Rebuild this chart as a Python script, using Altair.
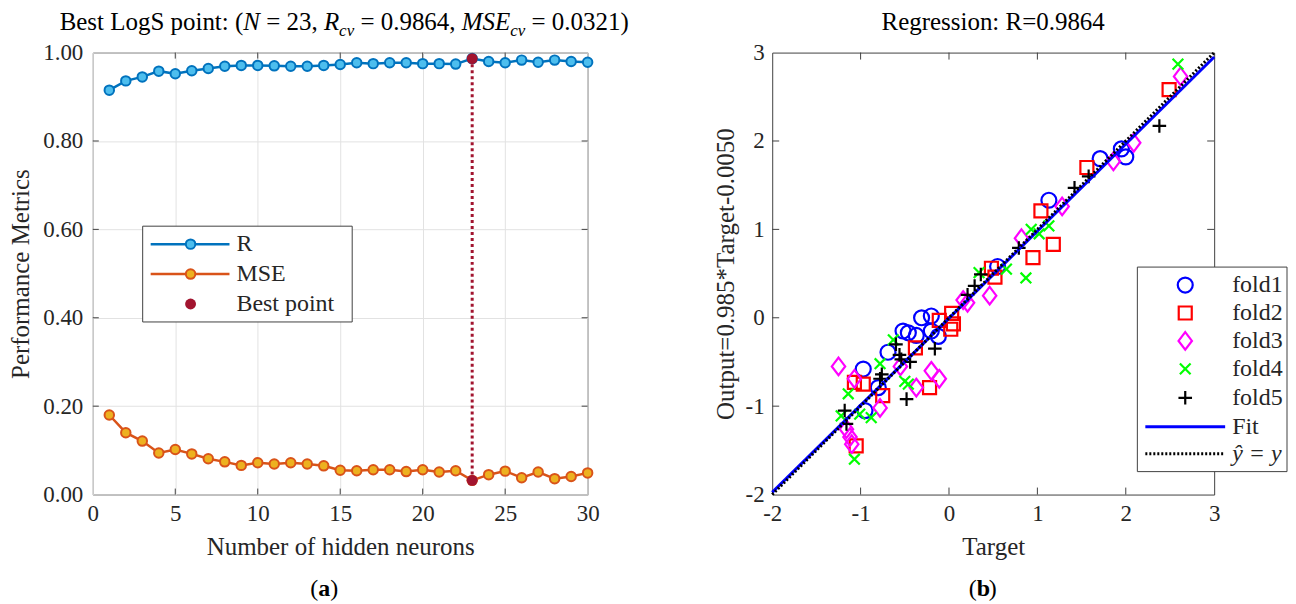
import altair as alt
import pandas as pd

# ---------------- data ----------------
neurons = list(range(1, 31))
r_values = [0.915, 0.936, 0.945, 0.958, 0.952, 0.959, 0.964, 0.969, 0.971, 0.971,
            0.970, 0.969, 0.969, 0.971, 0.973, 0.977, 0.975, 0.977, 0.977, 0.975,
            0.975, 0.974, 0.9864, 0.980, 0.977, 0.983, 0.978, 0.983, 0.980, 0.978]
mse_values = [0.180, 0.140, 0.121, 0.094, 0.102, 0.092, 0.081, 0.074, 0.066, 0.072,
              0.069, 0.072, 0.069, 0.065, 0.055, 0.054, 0.056, 0.056, 0.052, 0.056,
              0.051, 0.054, 0.0321, 0.045, 0.053, 0.038, 0.051, 0.036, 0.041, 0.049]
best_n = 23
best_r = 0.9864
best_mse = 0.0321

fold1_x = [2.00, 1.95, 1.71, 1.13, 0.55, -0.20, -0.31, -0.46, -0.52, -0.37, -0.20, -0.12, -0.69, -0.97, -0.80, -0.95]
fold1_y = [1.82, 1.91, 1.80, 1.33, 0.58, 0.02, 0.00, -0.17, -0.15, -0.20, -0.15, -0.21, -0.39, -0.58, -0.79, -1.05]
fold2_x = [2.49, 1.56, 1.04, 1.18, 0.95, 0.48, 0.52, 0.03, 0.05, -0.11, 0.02, -0.38, -0.22, -0.75, -1.07, -0.97, -1.05]
fold2_y = [2.58, 1.70, 1.21, 0.83, 0.68, 0.56, 0.46, 0.05, -0.07, -0.03, -0.13, -0.34, -0.79, -0.88, -0.73, -0.75, -1.45]
fold3_x = [2.62, 2.09, 1.86, 1.28, 0.82, 0.46, 0.21, 0.16, -0.55, -1.25, -1.07, -0.78, -1.16, -1.12, -1.10, -0.37, -0.20, -0.11]
fold3_y = [2.73, 1.98, 1.77, 1.26, 0.90, 0.25, 0.17, 0.20, -0.55, -0.55, -0.69, -1.02, -1.26, -1.35, -1.43, -0.79, -0.60, -0.69]
fold4_x = [2.59, 0.93, 1.13, 1.02, 0.87, 0.34, 0.65, -0.63, -0.50, -0.46, -0.78, -1.14, -1.22, -1.01, -0.88, -1.07]
fold4_y = [2.87, 1.00, 1.04, 0.95, 0.45, 0.51, 0.55, -0.25, -0.72, -0.75, -0.52, -0.86, -1.11, -1.09, -1.13, -1.60]
fold5_x = [2.38, 1.58, 1.42, 0.79, 0.36, 0.29, 0.21, -0.16, -0.60, -0.56, -0.54, -0.44, -0.48, -0.78, -0.76, -1.18, -1.16]
fold5_y = [2.17, 1.60, 1.47, 0.79, 0.49, 0.36, 0.26, -0.35, -0.30, -0.42, -0.47, -0.50, -0.92, -0.69, -0.64, -1.05, -1.20]

fit_slope = 0.985
fit_intercept = -0.0050
line_x = [-2, 3]

left_xticks = [0, 5, 10, 15, 20, 25, 30]
left_yticks = [0.0, 0.2, 0.4, 0.6, 0.8, 1.0]
right_ticks = [-2, -1, 0, 1, 2, 3]

legend_left_labels = ["R", "MSE", "Best point"]
legend_right_labels = ["fold1", "fold2", "fold3", "fold4", "fold5", "Fit"]

# ---------------- style ----------------
FONT = "Liberation Serif"
FS_TICK = 23
FS_AX = 25
FS_LEG = 24
FS_T = 25
SUB = 17
TXT = "#262626"
FRAME = "#404040"
WL, HL = 496, 443
WR, HR = 443, 443

one = pd.DataFrame({"k": [0]})

TN = {' ': .25, '(': .333, ')': .333, ',': .25, '.': .25, ':': .278, '=': .564,
      'B': .667, 'L': .611, 'S': .556, 'R': .667, 'e': .444, 's': .389, 't': .278, 'o': .5,
      'g': .5, 'p': .5, 'i': .278, 'n': .5, 'a': .5, 'b': .5, 'r': .333}
TI = {'N': .667, 'R': .611, 'M': .833, 'S': .5, 'E': .611, 'c': .444, 'v': .444}


def width(s, style, size):
    tab = TI if style == "italic" else TN
    return sum(tab.get(ch, TN.get(ch, .5)) for ch in s) * size


def text_run(pieces, center_x, base_y, color="#000000"):
    total = sum(width(s, st, sz) for s, st, sz, dy, wt in pieces)
    x = center_x - total / 2
    layers = []
    for s, st, sz, dy, wt in pieces:
        lead = len(s) - len(s.lstrip(' '))
        tx = x + lead * TN[' '] * sz
        layers.append(
            alt.Chart(one).mark_text(align="left", baseline="alphabetic", font=FONT,
                                     fontSize=sz, fontStyle=st, fontWeight=wt,
                                     color=color, dy=dy)
            .encode(x=alt.value(tx), y=alt.value(base_y), text=alt.value(s.strip(' ')))
        )
        x += width(s, st, sz)
    return layers


def txt(label, x, y, style="normal", size=FS_LEG, align="left"):
    return alt.Chart(one).mark_text(align=align, baseline="middle", font=FONT, fontSize=size,
                                    fontStyle=style, color=TXT).encode(
        x=alt.value(x), y=alt.value(y), text=alt.value(label))


def hrule(x1, x2, y, color, sw, dash=None):
    kw = dict(color=color, strokeWidth=sw)
    if dash:
        kw["strokeDash"] = dash
    return alt.Chart(one).mark_rule(**kw).encode(x=alt.value(x1), x2=alt.value(x2), y=alt.value(y))


def box(x1, x2, y1, y2):
    return alt.Chart(one).mark_rect(fill="white", stroke=FRAME, strokeWidth=1).encode(
        x=alt.value(x1), x2=alt.value(x2), y=alt.value(y1), y2=alt.value(y2))


AXF = dict(labelFont=FONT, labelFontSize=FS_TICK, labelColor=TXT, titleFont=FONT,
           titleFontSize=FS_AX, titleFontWeight="normal", titleColor=TXT,
           tickSize=0, domain=False, labelFlush=False)

# ---------------- left panel ----------------
xl_scale = alt.Scale(domain=[0, 30], nice=False, zero=False)
yl_scale = alt.Scale(domain=[0, 1], nice=False)
axis_xl = alt.Axis(values=left_xticks, grid=True, gridColor="#e2e2e2", labelPadding=8,
                   title="Number of hidden neurons", titleY=52, titleBaseline="middle", **AXF)
axis_yl = alt.Axis(values=left_yticks, format=".2f", grid=True, gridColor="#e2e2e2",
                   labelPadding=10, title="Performance Metrics", titleX=-72,
                   titleY=HL / 2, titleBaseline="middle", titleAlign="center", **AXF)

df_perf = pd.DataFrame({"n": neurons, "R": r_values, "MSE": mse_values})
XL = alt.X("n:Q", scale=xl_scale, axis=axis_xl)

r_line = alt.Chart(df_perf).mark_line(color="#0072BD", strokeWidth=2.5).encode(
    x=XL, y=alt.Y("R:Q", scale=yl_scale, axis=axis_yl))
r_pts = alt.Chart(df_perf).mark_point(shape="circle", filled=True, fill="#4DBEEE", stroke="#0072BD",
                                      strokeWidth=2, size=90, opacity=1).encode(
    x=XL, y=alt.Y("R:Q", scale=yl_scale, axis=axis_yl))
m_line = alt.Chart(df_perf).mark_line(color="#D95319", strokeWidth=2.5).encode(
    x=XL, y=alt.Y("MSE:Q", scale=yl_scale, axis=axis_yl))
m_pts = alt.Chart(df_perf).mark_point(shape="circle", filled=True, fill="#EDB120", stroke="#D95319",
                                      strokeWidth=2, size=90, opacity=1).encode(
    x=XL, y=alt.Y("MSE:Q", scale=yl_scale, axis=axis_yl))

df_bline = pd.DataFrame({"n": [best_n], "lo": [best_mse], "hi": [best_r]})
b_rule = alt.Chart(df_bline).mark_rule(color="#A2142F", strokeWidth=3, strokeDash=[3, 3]).encode(
    x=XL, y=alt.Y("lo:Q", scale=yl_scale, axis=axis_yl), y2="hi:Q")
df_bpts = pd.DataFrame({"n": [best_n, best_n], "v": [best_r, best_mse]})
b_pts = alt.Chart(df_bpts).mark_point(shape="circle", filled=True, color="#A2142F", size=120,
                                      opacity=1).encode(
    x=XL, y=alt.Y("v:Q", scale=yl_scale, axis=axis_yl))

df_xt_l = pd.DataFrame({"v": left_xticks[1:-1]})
df_yt_l = pd.DataFrame({"v": left_yticks[1:-1]})
ticks_l = [
    alt.Chart(df_xt_l).mark_rule(color=FRAME).encode(x=alt.X("v:Q", scale=xl_scale, axis=axis_xl),
                                                     y=alt.value(HL), y2=alt.value(HL - 6)),
    alt.Chart(df_xt_l).mark_rule(color=FRAME).encode(x=alt.X("v:Q", scale=xl_scale, axis=axis_xl),
                                                     y=alt.value(0), y2=alt.value(6)),
    alt.Chart(df_yt_l).mark_rule(color=FRAME).encode(y=alt.Y("v:Q", scale=yl_scale, axis=axis_yl),
                                                     x=alt.value(0), x2=alt.value(6)),
    alt.Chart(df_yt_l).mark_rule(color=FRAME).encode(y=alt.Y("v:Q", scale=yl_scale, axis=axis_yl),
                                                     x=alt.value(WL), x2=alt.value(WL - 6)),
]

# legend (left)
lg_l = [box(50, 260, 174, 270)]
ly = [192, 222, 252]
lg_l += [hrule(58, 137, ly[0], "#0072BD", 2.5),
         alt.Chart(one).mark_point(shape="circle", filled=True, fill="#4DBEEE", stroke="#0072BD",
                                   strokeWidth=2, size=90, opacity=1).encode(
             x=alt.value(98), y=alt.value(ly[0])),
         hrule(58, 137, ly[1], "#D95319", 2.5),
         alt.Chart(one).mark_point(shape="circle", filled=True, fill="#EDB120", stroke="#D95319",
                                   strokeWidth=2, size=90, opacity=1).encode(
             x=alt.value(98), y=alt.value(ly[1])),
         alt.Chart(one).mark_point(shape="circle", filled=True, color="#A2142F", size=120,
                                   opacity=1).encode(x=alt.value(98), y=alt.value(ly[2]))]
lg_l += [txt(lab, 144, yy) for lab, yy in zip(legend_left_labels, ly)]

title_l = text_run([
    ("Best LogS point: (", "normal", FS_T, 0, "normal"),
    ("N", "italic", FS_T, 0, "normal"),
    (" = 23, ", "normal", FS_T, 0, "normal"),
    ("R", "italic", FS_T, 0, "normal"),
    ("cv", "italic", SUB, 6, "normal"),
    (" = 0.9864, ", "normal", FS_T, 0, "normal"),
    ("MSE", "italic", FS_T, 0, "normal"),
    ("cv", "italic", SUB, 6, "normal"),
    (" = 0.0321)", "normal", FS_T, 0, "normal"),
], WL / 2 + 4, -23)

tag_a = text_run([("(", "normal", FS_LEG, 0, "normal"), ("a", "normal", FS_LEG, 0, "bold"),
                  (")", "normal", FS_LEG, 0, "normal")], 232, 545)

left = alt.layer(r_line, m_line, *ticks_l, r_pts, m_pts, b_rule, b_pts, *lg_l, *title_l, *tag_a
                 ).properties(width=WL, height=HL)

# ---------------- right panel ----------------
r_scale_x = alt.Scale(domain=[-2, 3], nice=False, zero=False)
r_scale_y = alt.Scale(domain=[-2, 3], nice=False, zero=False)
axis_xr = alt.Axis(values=right_ticks, grid=False, labelPadding=8, title="Target", titleY=52,
                   titleBaseline="middle", labelExpr="'' + datum.value", **AXF)
axis_yr = alt.Axis(values=right_ticks, grid=False, labelPadding=8,
                   title="Output=0.985*Target-0.0050", titleX=-47, titleY=HR / 2,
                   titleBaseline="middle", titleAlign="center", labelExpr="'' + datum.value", **AXF)
XR = alt.X("x:Q", scale=r_scale_x, axis=axis_xr)
YR = alt.Y("y:Q", scale=r_scale_y, axis=axis_yr)

SHAPES = {
    "circle": ("circle", 225),
    "square": ("square", 170),
    "diamond": ("M0,-1.25L0.95,0L0,1.25L-0.95,0Z", 200),
    "x": ("M-1,-1L1,1M-1,1L1,-1", 115),
    "plus": ("M-1,0L1,0M0,-1L0,1", 185),
}
folds = [
    (fold1_x, fold1_y, "circle", "#0000FF"),
    (fold2_x, fold2_y, "square", "#FF0000"),
    (fold3_x, fold3_y, "diamond", "#FF00FF"),
    (fold4_x, fold4_y, "x", "#00FF00"),
    (fold5_x, fold5_y, "plus", "#000000"),
]
scat = []
for fx, fy, shp, col in folds:
    path, sz = SHAPES[shp]
    scat.append(alt.Chart(pd.DataFrame({"x": fx, "y": fy})).mark_point(
        shape=path, filled=False, stroke=col, strokeWidth=2.2, size=sz, opacity=1).encode(x=XR, y=YR))

df_fit = pd.DataFrame({"x": line_x, "y": [fit_slope * v + fit_intercept for v in line_x]})
df_id = pd.DataFrame({"x": line_x, "y": line_x})
fit_line = alt.Chart(df_fit).mark_line(color="#0000FF", strokeWidth=3).encode(x=XR, y=YR)
id_line = alt.Chart(df_id).mark_line(color="#000000", strokeWidth=3, strokeDash=[2, 2]).encode(x=XR, y=YR)

df_t_r = pd.DataFrame({"v": right_ticks[1:-1]})
ticks_r = [
    alt.Chart(df_t_r).mark_rule(color=FRAME).encode(x=alt.X("v:Q", scale=r_scale_x, axis=axis_xr),
                                                    y=alt.value(HR), y2=alt.value(HR - 7)),
    alt.Chart(df_t_r).mark_rule(color=FRAME).encode(x=alt.X("v:Q", scale=r_scale_x, axis=axis_xr),
                                                    y=alt.value(0), y2=alt.value(7)),
    alt.Chart(df_t_r).mark_rule(color=FRAME).encode(y=alt.Y("v:Q", scale=r_scale_y, axis=axis_yr),
                                                    x=alt.value(0), x2=alt.value(7)),
    alt.Chart(df_t_r).mark_rule(color=FRAME).encode(y=alt.Y("v:Q", scale=r_scale_y, axis=axis_yr),
                                                    x=alt.value(WR), x2=alt.value(WR - 7)),
]

# legend (right)
lg_r = [box(366, 516, 215, 420)]
ry = [233, 261, 289, 317, 346, 375, 402]
for (fx, fy, shp, col), yy in zip(folds, ry):
    path, sz = SHAPES[shp]
    lg_r.append(alt.Chart(one).mark_point(shape=path, filled=False, stroke=col, strokeWidth=2.2,
                                          size=sz, opacity=1).encode(x=alt.value(414), y=alt.value(yy)))
lg_r += [txt(lab, 461, yy) for lab, yy in zip(legend_right_labels, ry[:6])]
lg_r += [hrule(374, 454, ry[5], "#0000FF", 3), hrule(374, 454, ry[6], "#000000", 3, [2, 2])]
lg_r += [txt("ŷ = y", 461, ry[6], style="italic")]

title_r = text_run([("Regression: R=0.9864", "normal", FS_T, 0, "normal")], WR / 2, -23)
tag_b = text_run([("(", "normal", FS_LEG, 0, "normal"), ("b", "normal", FS_LEG, 0, "bold"),
                  (")", "normal", FS_LEG, 0, "normal")], 211, 545)

right = alt.layer(*ticks_r, *scat, fit_line, id_line, *lg_r, *title_r, *tag_b
                  ).properties(width=WR, height=HR)

chart = alt.hconcat(left, right, spacing=185, bounds="flush").properties(
    padding={"left": 0, "top": 0, "right": 0, "bottom": 0}
).configure_view(stroke=FRAME, strokeWidth=1).configure_axis(
    labelFont=FONT, labelFontSize=FS_TICK, labelColor=TXT, titleFont=FONT, titleFontSize=FS_AX,
    titleFontWeight="normal", titleColor=TXT)

chart.save("out.html", embed_options={"renderer": "svg", "actions": False})
